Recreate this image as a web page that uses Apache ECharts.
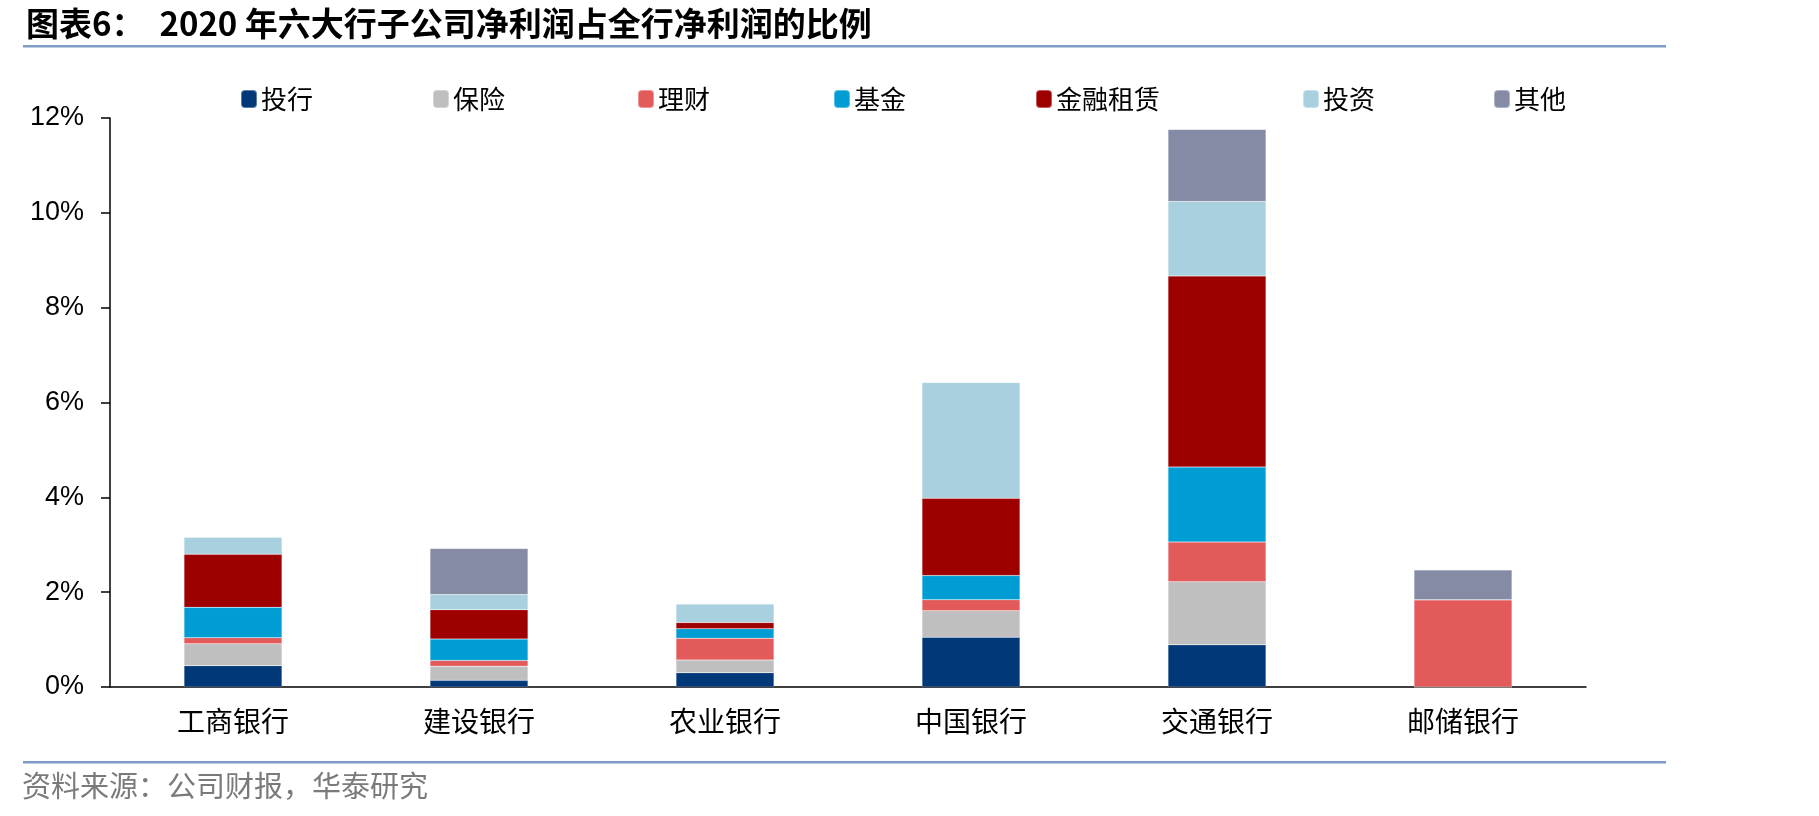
<!DOCTYPE html>
<html>
<head>
<meta charset="utf-8">
<script src="https://cdn.jsdelivr.net/npm/echarts@6/dist/echarts.min.js"></script>
<style>
  html, body { margin: 0; padding: 0; background: #fff; }
  #chart { width: 1819px; height: 816px; }
</style>
</head>
<body>
<div id="chart"></div>
<script>
// 各行名称
const banks = ['工商银行', '建设银行', '农业银行', '中国银行', '交通银行', '邮储银行'];

// 各子公司净利润占全行净利润比例（%），按银行顺序
const touhang   = [0.45, 0.14, 0.30, 1.05, 0.89, 0];
const baoxian   = [0.46, 0.30, 0.27, 0.56, 1.33, 0];
const licai     = [0.13, 0.12, 0.46, 0.23, 0.84, 1.84];
const jijin     = [0.64, 0.45, 0.20, 0.51, 1.58, 0];
const zulin     = [1.12, 0.62, 0.13, 1.63, 4.03, 0];
const touzi     = [0.36, 0.32, 0.39, 2.44, 1.57, 0];
const qita      = [0, 0.97, 0, 0, 1.52, 0.63];

const yTicks = [0, 2, 4, 6, 8, 10, 12];

const seriesDefs = [
    { name: '投行', data: touhang, color: '#003878' },
    { name: '保险', data: baoxian, color: '#bfbfbf' },
    { name: '理财', data: licai, color: '#e35a5a' },
    { name: '基金', data: jijin, color: '#009dd4' },
    { name: '金融租赁', data: zulin, color: '#9e0000' },
    { name: '投资', data: touzi, color: '#a9d0df' },
    { name: '其他', data: qita, color: '#858ba5' }
];

// 图例位置（每项单独放）
const legendLeft = [235, 427, 632, 828, 1030, 1297, 1488];

const cjk = '"Noto Sans CJK SC", sans-serif';
const chart = echarts.init(document.getElementById('chart'));

chart.setOption({
    backgroundColor: '#ffffff',
    animation: false,
    title: {
        text: '图表6：  2020 年六大行子公司净利润占全行净利润的比例',
        left: 21,
        top: 2,
        textStyle: { fontFamily: cjk, fontSize: 33, fontWeight: 'bold', color: '#000' }
    },
    legend: seriesDefs.map((s, i) => ({
        data: [s.name],
        left: legendLeft[i],
        top: 81,
        itemWidth: 16,
        itemHeight: 18,
        itemGap: 0,
        textStyle: { fontFamily: cjk, fontSize: 26, color: '#000', padding: [0, 0, 0, -1] },
        selectedMode: false
    })),
    grid: { left: 110, right: 233, top: 118, bottom: 129 },
    xAxis: {
        type: 'category',
        data: banks,
        axisLine: { lineStyle: { color: '#000', width: 1.5 } },
        axisTick: { length: 9, lineStyle: { color: '#000', width: 1.5 } },
        axisLabel: { fontFamily: cjk, fontSize: 28, color: '#000', margin: 20 }
    },
    yAxis: {
        type: 'value',
        min: yTicks[0],
        max: yTicks[yTicks.length - 1],
        interval: 2,
        splitLine: { show: false },
        axisLine: { show: true, lineStyle: { color: '#000', width: 1.5 } },
        axisTick: { show: true, length: 9, lineStyle: { color: '#000', width: 1.5 } },
        axisLabel: {
            formatter: '{value}%',
            fontFamily: '"Liberation Sans", Arial, sans-serif',
            fontSize: 27,
            color: '#000',
            margin: 26
        }
    },
    series: seriesDefs.map(s => ({
        name: s.name,
        type: 'bar',
        stack: 'total',
        barWidth: 98,
        data: s.data,
        itemStyle: { color: s.color, borderColor: 'rgba(255,255,255,0.35)', borderWidth: 0.5 }
    })),
    graphic: [
        {
            type: 'rect',
            shape: { x: 23, y: 45, width: 1643, height: 2.5 },
            style: { fill: '#7f9cc6' }
        },
        {
            type: 'rect',
            shape: { x: 23, y: 761, width: 1643, height: 2.5 },
            style: { fill: '#7f9cc6' }
        },
        {
            type: 'text',
            left: 22,
            top: 771,
            style: {
                text: '资料来源：公司财报，华泰研究',
                fontFamily: cjk,
                fontSize: 29,
                fill: '#7a7a7a'
            }
        }
    ]
});
</script>
</body>
</html>
